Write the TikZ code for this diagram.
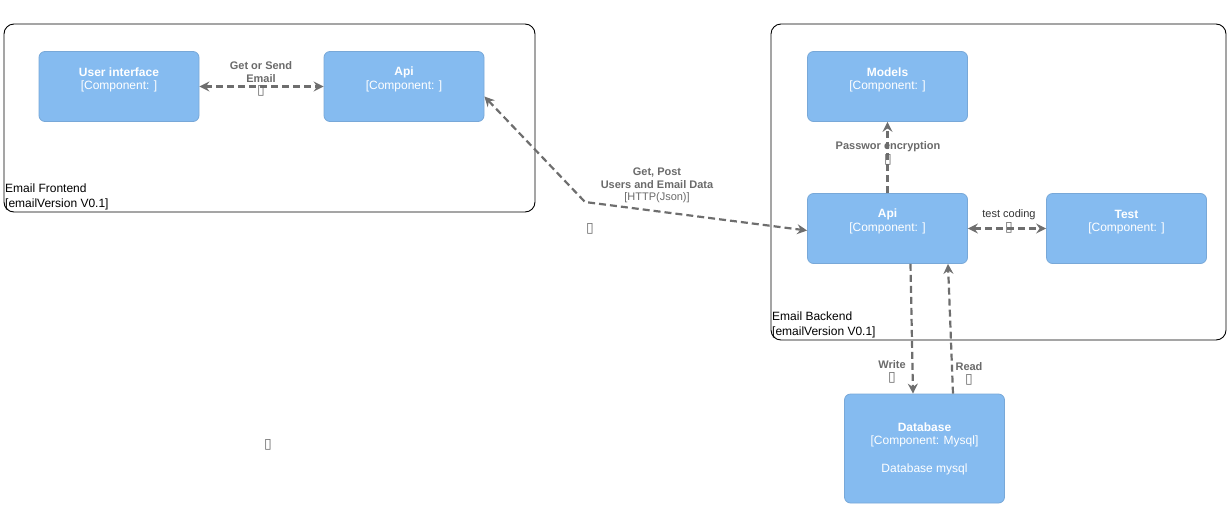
\documentclass[tikz,border=0pt]{standalone}
\usepackage{fontspec}
\setmainfont{Liberation Sans}
\newfontfamily\dv{DejaVu Sans}
\usetikzlibrary{arrows.meta,calc}
\definecolor{compfill}{HTML}{85BBF0}
\definecolor{compline}{HTML}{78A8D8}
\definecolor{edgegray}{HTML}{6E6E6E}
\definecolor{labgray}{HTML}{6A6A6A}
\tikzset{
  container/.style={draw=black,line width=0.9pt,rounded corners=10pt,fill=none},
  comp/.style={draw=compline,fill=compfill,line width=0.8pt,rounded corners=6pt,minimum width=160pt,minimum height=70pt,inner sep=0pt},
  ctitle/.style={text=white,font=\fontsize{12}{14}\selectfont\bfseries,inner sep=0pt},
  csub/.style={text=white,font=\fontsize{12}{14}\selectfont,inner sep=0pt},
  contlab/.style={text=black,font=\fontsize{12}{15}\selectfont,align=left,anchor=north west,inner sep=0pt},
  dep/.style={draw=edgegray,line width=2.2pt,dash pattern=on 7pt off 4pt,
    arrows={-Stealth[length=10pt,width=10pt,inset=3.5pt]}},
  dep2/.style={dep,arrows={Stealth[length=10pt,width=10pt,inset=3.5pt]-Stealth[length=10pt,width=10pt,inset=3.5pt]}},
  elab/.style={text=labgray,font=\fontsize{11}{13}\selectfont\bfseries,align=center,inner sep=0pt},
  elabn/.style={text=labgray,font=\fontsize{11}{13}\selectfont,align=center,inner sep=0pt},
  tofu/.style={text=labgray,font=\dv\fontsize{14}{14}\selectfont,inner sep=0pt},
}
\begin{document}
\begin{tikzpicture}[x=1pt,y=-1pt]
\useasboundingbox (0,0) rectangle (1227,504);
% containers
\draw[container] (4,24) rectangle (535,212);
\node[contlab] (fel) at (5,183.5) {Email Frontend\\{[emailVersion V0.1]}};
\draw[container] (771,24) rectangle (1226,340);
\node[contlab] (bel) at (772,311.5) {Email Backend\\{[emailVersion V0.1]}};
% components
\node[comp] (ui) at (119,86.5) {};
\node[ctitle] (uit) at ($(ui.north)+(0,21.5)$) {User interface};
\node[csub] (uis) at ($(ui.north)+(0,35.5)$) {[Component: ]};
\node[comp] (apif) at (404,86.5) {};
\node[ctitle] (apift) at ($(apif.north)+(0,21.5)$) {Api};
\node[csub] (apifs) at ($(apif.north)+(0,35.5)$) {[Component: ]};
\node[comp] (models) at (887.5,86.5) {};
\node[ctitle] (modt) at ($(models.north)+(0,21.5)$) {Models};
\node[csub] (mods) at ($(models.north)+(0,35.5)$) {[Component: ]};
\node[comp] (apib) at (887.5,228.5) {};
\node[ctitle] (apibt) at ($(apib.north)+(0,21.5)$) {Api};
\node[csub] (apibs) at ($(apib.north)+(0,35.5)$) {[Component: ]};
\node[comp] (test) at (1126.5,228.5) {};
\node[ctitle] (testt) at ($(test.north)+(0,21.5)$) {Test};
\node[csub] (tests) at ($(test.north)+(0,35.5)$) {[Component: ]};
\node[comp,minimum height=109pt] (db) at (924.5,448.5) {};
\node[ctitle] (dbt) at ($(db.north)+(0,34)$) {Database};
\node[csub] (dbs) at ($(db.north)+(0,48)$) {[Component: Mysql]};
\node[csub] (dbd) at ($(db.north)+(0,76)$) {Database mysql};
% connectors
\draw[dep2] (ui.east) -- (apif.west);
\node[elab] (l1) at (261,72) {Get or Send\\Email};
\node[tofu] (t1) at (261,91) {▯};
\coordinate (bend) at (585,202);
\draw[dep2] ([yshift=-10pt]apif.east) -- (bend) -- ([yshift=-2pt]apib.west);
\node[elab] (l2) at (657,178) {Get, Post\\Users and Email Data};
\node[elabn] (l2b) at (657,197.5) {[HTTP(Json)]};
\node[tofu] (t2) at (590,229) {▯};
\draw[dep] (apib.north) -- (models.south);
\node[elab] (l3) at (888,146.5) {Passwor encryption};
\node[tofu] (t3) at (888,160) {▯};
\draw[dep2] (apib.east) -- (test.west);
\node[elabn,text=black!80] (l4) at (1009,214.5) {test coding};
\node[tofu] (t4) at (1009,228) {▯};
\draw[dep] ([xshift=23pt]apib.south) -- ([xshift=-11.5pt]db.north);
\node[elab] (l5) at (892,364.5) {Write};
\node[tofu] (t5) at (892,378) {▯};
\draw[dep] ([xshift=28.5pt]db.north) -- ([xshift=60.5pt]apib.south);
\node[elab] (l6) at (969,366.5) {Read};
\node[tofu] (t6) at (969,380) {▯};
\node[tofu] (t7) at (268,445) {▯};
\end{tikzpicture}
\end{document}
